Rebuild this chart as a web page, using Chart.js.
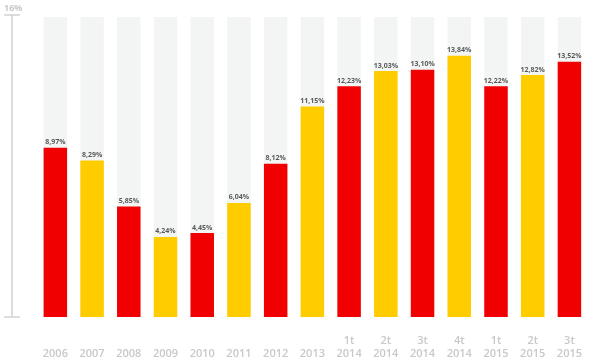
<!DOCTYPE html>
<html>
<head>
<meta charset="utf-8">
<script src="https://cdn.jsdelivr.net/npm/chart.js@4.4.1/dist/chart.umd.min.js"></script>
<style>
html,body{margin:0;padding:0;background:#fff;}
#wrap{width:600px;height:364px;position:relative;}
</style>
</head>
<body>
<div id="wrap"><canvas id="c"></canvas></div>
<script>
const categories = [['', '2006'], ['', '2007'], ['', '2008'], ['', '2009'], ['', '2010'], ['', '2011'], ['', '2012'], ['', '2013'],
  ['1t', '2014'], ['2t', '2014'], ['3t', '2014'], ['4t', '2014'], ['1t', '2015'], ['2t', '2015'], ['3t', '2015']];
const values = [8.97, 8.29, 5.85, 4.24, 4.45, 6.04, 8.12, 11.15, 12.23, 13.03, 13.10, 13.84, 12.22, 12.82, 13.52];
const valueLabels = ['8,97%', '8,29%', '5,85%', '4,24%', '4,45%', '6,04%', '8,12%', '11,15%', '12,23%', '13,03%', '13,10%', '13,84%', '12,22%', '12,82%', '13,52%'];
const backgroundValues = [15.9, 15.9, 15.9, 15.9, 15.9, 15.9, 15.9, 15.9, 15.9, 15.9, 15.9, 15.9, 15.9, 15.9, 15.9];
const yMax = 16;
const yTopLabel = '16%';

const RED = '#f00000', YELLOW = '#ffcc00';
const barColors = values.map((v, i) => (i % 2 === 0 ? RED : YELLOW));

const decor = {
  id: 'decor',
  afterDatasetsDraw(chart) {
    const ctx = chart.ctx;
    const y = chart.scales.y;
    const yTop = y.getPixelForValue(yMax);
    const yBot = y.getPixelForValue(0);
    ctx.save();
    ctx.strokeStyle = '#d2d2d2';
    ctx.lineWidth = 1.5;
    ctx.beginPath();
    ctx.moveTo(12, yTop); ctx.lineTo(12, yBot);
    ctx.moveTo(4, yTop); ctx.lineTo(20, yTop);
    ctx.moveTo(4, yBot); ctx.lineTo(20, yBot);
    ctx.stroke();
    ctx.fillStyle = '#c8c8c8';
    ctx.font = 'bold 9px "Open Sans"';
    ctx.textAlign = 'left';
    ctx.textBaseline = 'bottom';
    ctx.fillText(yTopLabel, 4, yTop - 2);
    // value labels
    const meta = chart.getDatasetMeta(1);
    ctx.fillStyle = '#5a5a5a';
    ctx.font = 'bold 7px "Open Sans"';
    ctx.textAlign = 'center';
    meta.data.forEach((bar, i) => {
      ctx.fillText(valueLabels[i], bar.x, bar.y - 2);
    });
    ctx.restore();
  }
};

new Chart(document.getElementById('c'), {
  type: 'bar',
  data: {
    labels: categories,
    datasets: [
      { data: backgroundValues, backgroundColor: '#f3f5f5', grouped: false, order: 2,
        barPercentage: 0.64, categoryPercentage: 1 },
      { data: values, backgroundColor: barColors, grouped: false, order: 1,
        barPercentage: 0.64, categoryPercentage: 1 }
    ]
  },
  options: {
    responsive: true,
    maintainAspectRatio: false,
    animation: false,
    layout: { padding: { left: 37, right: 0, top: 15, bottom: 0 } },
    plugins: { legend: { display: false }, tooltip: { enabled: false } },
    scales: {
      y: { display: false, min: 0, max: yMax },
      x: {
        grid: { display: false, drawTicks: false },
        border: { display: false },
        ticks: {
          color: '#c8c8c8',
          font: { family: 'Open Sans', weight: '600', size: 11, lineHeight: 1.15 },
          padding: 18,
          maxRotation: 0,
          autoSkip: false
        },
        afterFit(scale) { scale.height = 47; }
      }
    }
  },
  plugins: [decor]
});
</script>
</body>
</html>
